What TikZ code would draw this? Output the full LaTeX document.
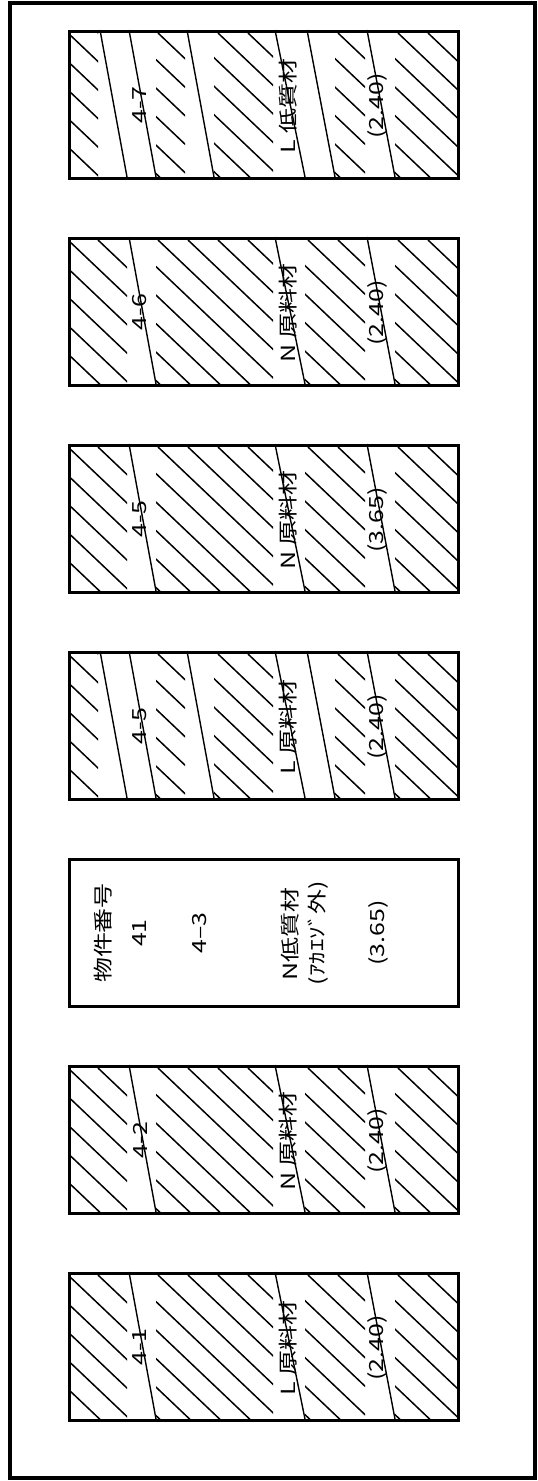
\documentclass[tikz,border=0pt]{standalone}
\usepackage{fontspec}
\newfontfamily\jpfont{Noto Sans CJK JP}
\usetikzlibrary{positioning}

\begin{document}
\begin{tikzpicture}[
        x=1pt, y=-1pt,
        frame/.style={draw, line width=3.5pt, minimum width=525pt, minimum height=1475pt, inner sep=0pt},
        plot/.style={draw, line width=3pt, minimum width=389pt, minimum height=147pt, inner sep=0pt, anchor=north west},
        txt/.style={font=\jpfont\fontsize{19.5}{21}\selectfont, rotate=90, xscale=1.28, inner sep=0pt},
        hatch/.style={line width=1.5pt},
        grain/.style={line width=1.4pt}
    ]
        \fill[white] (0,0) rectangle (538,1481);

        % Frame
        \node[frame] (F) at (272.5,740.5) {};

        % Plots
        \node[plot] (P7) at (68,30) {};
        \node[plot] (P6) at (68,237) {};
        \node[plot] (P5N) at (68,444) {};
        \node[plot] (P5L) at (68,651) {};
        \node[plot] (P3) at (68,858) {};
        \node[plot] (P2) at (68,1065) {};
        \node[plot] (P1) at (68,1272) {};

        % Hatching, six grain lines
        \foreach \t in {30,651} {
            \begin{scope}
                \clip (68,\t) rectangle (98,\t+147) (156,\t) rectangle (185,\t+147)
                      (214,\t) rectangle (273,\t+147) (335,\t) rectangle (365,\t+147)
                      (395,\t) rectangle (457,\t+147);
                \foreach \k in {-6,...,13}
                    \draw[hatch] (68+30*\k,\t+3) -- ++(170,161.5);
            \end{scope}
            \foreach \a/\b in {98/127,127/156,185/214,273/305,305/335,365/395}
                \draw[grain] (\a+2,\t) -- (\b,\t+147);
        }

        % Hatching, three grain lines
        \foreach \t in {237,444,1065,1272} {
            \begin{scope}
                \clip (68,\t) rectangle (127,\t+147) (156,\t) rectangle (273,\t+147)
                      (305,\t) rectangle (365,\t+147) (395,\t) rectangle (457,\t+147);
                \foreach \k in {-6,...,13}
                    \draw[hatch] (68+30*\k,\t+3) -- ++(170,161.5);
            \end{scope}
            \foreach \a/\b in {127/156,273/305,365/395}
                \draw[grain] (\a+2,\t) -- (\b,\t+147);
        }

        % Labels
        \node[txt] (T7a) at (140,105) {4-7};
        \node[txt] (T7b) at (288,106) {L 低質材};
        \node[txt] (T7c) at (377,106) {(2.40)};

        \node[txt] (T6a) at (140,312) {4-6};
        \node[txt] (T6b) at (288,313) {N 原料材};
        \node[txt] (T6c) at (377,313) {(2.40)};

        \node[txt] (T5a) at (140,519) {4-5};
        \node[txt] (T5b) at (288,520) {N 原料材};
        \node[txt] (T5c) at (377,520) {(3.65)};

        \node[txt] (T4a) at (140,726) {4-5};
        \node[txt] (T4b) at (288,727) {L 原料材};
        \node[txt] (T4c) at (377,727) {(2.40)};

        \node[txt] (T3a) at (103,933) {物件番号};
        \node[txt] (T3b) at (140,933) {41};
        \node[txt] (T3c) at (200,933) {4–3};
        \node[txt] (T3d) at (290,934) {N低質材};
        \node[txt] (T3e) at (318,933) {(ｱｶｴｿﾞ外)};
        \node[txt] (T3f) at (378,933) {(3.65)};

        \node[txt] (T2a) at (140,1140) {4-2};
        \node[txt] (T2b) at (288,1141) {N 原料材};
        \node[txt] (T2c) at (377,1141) {(2.40)};

        \node[txt] (T1a) at (140,1347) {4-1};
        \node[txt] (T1b) at (288,1348) {L 原料材};
        \node[txt] (T1c) at (377,1348) {(2.40)};
\end{tikzpicture}
\end{document}
